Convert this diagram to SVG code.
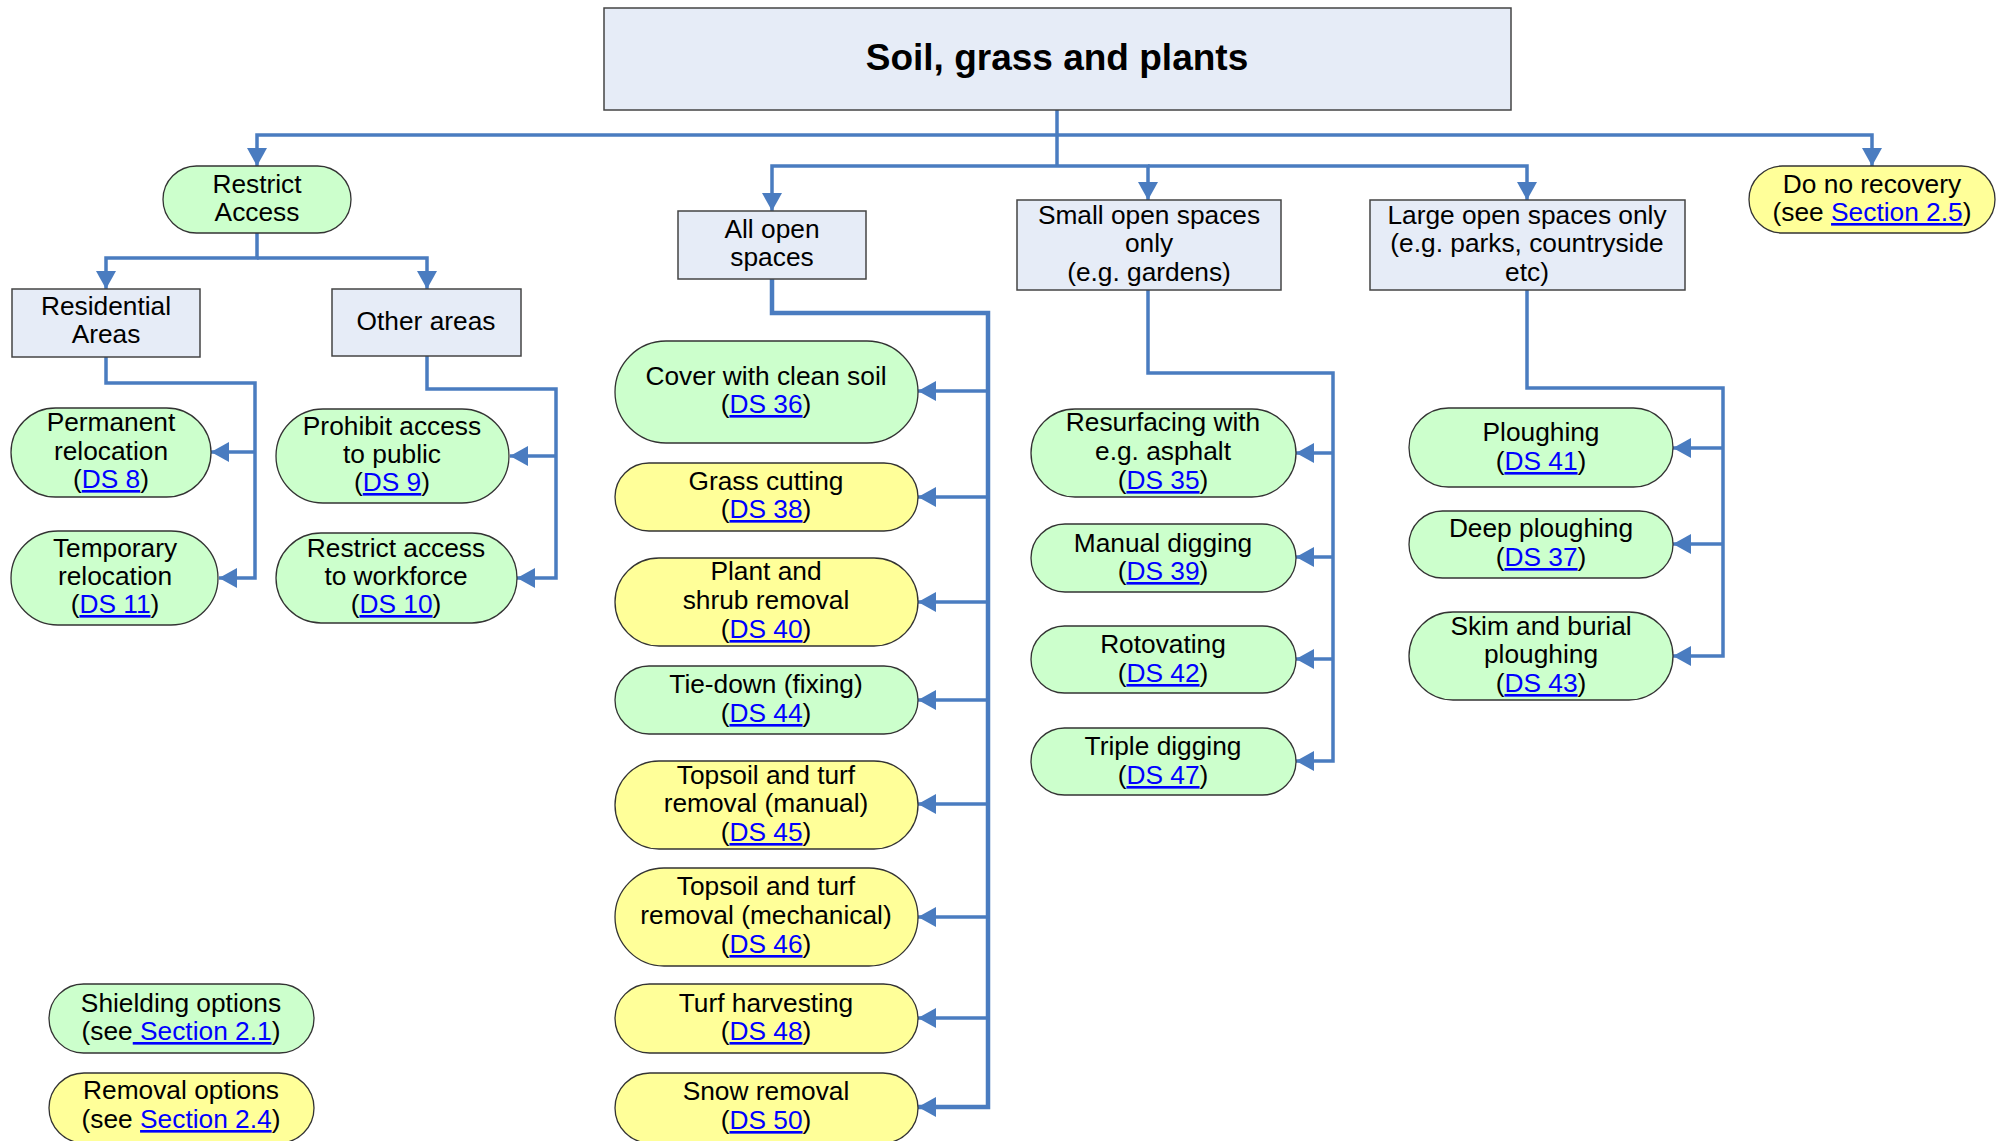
<svg xmlns="http://www.w3.org/2000/svg" width="2011" height="1141" viewBox="0 0 2011 1141">
  <style>
    text { font-family: "Liberation Sans", Arial, sans-serif; font-size: 26.3px; fill: #000; text-anchor: middle; }
    .title { font-size: 37px; font-weight: bold; }
    .box { fill: #E6ECF7; stroke: #444; stroke-width: 1.5; }
    .green { fill: #CCFFCC; stroke: #333; stroke-width: 1.3; }
    .yellow { fill: #FFFF99; stroke: #333; stroke-width: 1.3; }
    .link { fill: #0000FF; text-decoration: underline; }
    .conn path { fill: none; stroke: #4A7CC0; stroke-width: 3.5; stroke-linejoin: miter; }
    .conn path.trunk { stroke-width: 4.5; }
  </style>
  <defs>
    <marker id="arrow" viewBox="0 0 18 20" refX="18" refY="10" markerWidth="18" markerHeight="20" markerUnits="userSpaceOnUse" orient="auto">
      <path d="M0,0 L18,10 L0,20 z" fill="#4A7CC0"/>
    </marker>
  </defs>
  <rect width="2011" height="1141" fill="#fff"/>

  <!-- connectors -->
  <g id="connectors" class="conn">
    <path d="M1057,110 V166"/>
    <path d="M1057,135 H257 V166" marker-end="url(#arrow)"/>
    <path d="M1057,135 H1872 V166" marker-end="url(#arrow)"/>
    <path d="M1057,166 H772 V211" marker-end="url(#arrow)"/>
    <path d="M1057,166 H1148 V200" marker-end="url(#arrow)"/>
    <path d="M1148,166 H1527 V200" marker-end="url(#arrow)"/>

    <path d="M257,233 V258 H106 V289" marker-end="url(#arrow)"/>
    <path d="M257,258 H427 V289" marker-end="url(#arrow)"/>

    <path d="M106,357 V383 H255 V578 H219" marker-end="url(#arrow)"/>
    <path d="M255,452 H211" marker-end="url(#arrow)"/>

    <path d="M427,356 V389 H556 V578 H517" marker-end="url(#arrow)"/>
    <path d="M556,456 H510" marker-end="url(#arrow)"/>

    <path class="trunk" d="M772,279 V313 H988 V1107 H918" marker-end="url(#arrow)"/>
    <path d="M988,391 H918" marker-end="url(#arrow)"/>
    <path d="M988,497 H918" marker-end="url(#arrow)"/>
    <path d="M988,602 H918" marker-end="url(#arrow)"/>
    <path d="M988,700 H918" marker-end="url(#arrow)"/>
    <path d="M988,804 H918" marker-end="url(#arrow)"/>
    <path d="M988,917 H918" marker-end="url(#arrow)"/>
    <path d="M988,1018 H918" marker-end="url(#arrow)"/>

    <path d="M1148,290 V373 H1333 V761 H1296" marker-end="url(#arrow)"/>
    <path d="M1333,453 H1296" marker-end="url(#arrow)"/>
    <path d="M1333,557 H1296" marker-end="url(#arrow)"/>
    <path d="M1333,659 H1296" marker-end="url(#arrow)"/>

    <path d="M1527,290 V388 H1723 V656 H1673" marker-end="url(#arrow)"/>
    <path d="M1723,448 H1673" marker-end="url(#arrow)"/>
    <path d="M1723,544 H1673" marker-end="url(#arrow)"/>
  </g>

  <!-- top level -->
  <g id="title">
    <rect class="box" x="604" y="8" width="907" height="102"/>
    <text class="title" x="1057" y="70">Soil, grass and plants</text>
  </g>

  <g id="restrict-access">
    <rect class="green" x="163" y="166" width="188" height="67" rx="33.5"/>
    <text x="257" y="193">Restrict</text>
    <text x="257" y="221">Access</text>
  </g>
  <g id="residential-areas">
    <rect class="box" x="12" y="289" width="188" height="68"/>
    <text x="106" y="315">Residential</text>
    <text x="106" y="343">Areas</text>
  </g>
  <g id="other-areas">
    <rect class="box" x="332" y="289" width="189" height="67"/>
    <text x="426" y="330">Other areas</text>
  </g>
  <g id="permanent-relocation">
    <rect class="green" x="11" y="408" width="200" height="89" rx="44.5"/>
    <text x="111" y="431">Permanent</text>
    <text x="111" y="460">relocation</text>
    <text x="111" y="488">(<tspan class="link">DS 8</tspan>)</text>
  </g>
  <g id="temporary-relocation">
    <rect class="green" x="11" y="531" width="207" height="94" rx="47"/>
    <text x="115" y="557">Temporary</text>
    <text x="115" y="585">relocation</text>
    <text x="115" y="613">(<tspan class="link">DS 11</tspan>)</text>
  </g>
  <g id="prohibit-access">
    <rect class="green" x="276" y="409" width="233" height="94" rx="47"/>
    <text x="392" y="435">Prohibit access</text>
    <text x="392" y="463">to public</text>
    <text x="392" y="491">(<tspan class="link">DS 9</tspan>)</text>
  </g>
  <g id="restrict-workforce">
    <rect class="green" x="276" y="533" width="241" height="90" rx="45"/>
    <text x="396" y="557">Restrict access</text>
    <text x="396" y="585">to workforce</text>
    <text x="396" y="613">(<tspan class="link">DS 10</tspan>)</text>
  </g>

  <g id="all-open-spaces">
    <rect class="box" x="678" y="211" width="188" height="68"/>
    <text x="772" y="238">All open</text>
    <text x="772" y="266">spaces</text>
  </g>
  <g id="small-open-spaces">
    <rect class="box" x="1017" y="200" width="264" height="90"/>
    <text x="1149" y="224">Small open spaces</text>
    <text x="1149" y="252">only</text>
    <text x="1149" y="281">(e.g. gardens)</text>
  </g>
  <g id="large-open-spaces">
    <rect class="box" x="1370" y="200" width="315" height="90"/>
    <text x="1527" y="224">Large open spaces only</text>
    <text x="1527" y="252">(e.g. parks, countryside</text>
    <text x="1527" y="281">etc)</text>
  </g>
  <g id="do-no-recovery">
    <rect class="yellow" x="1749" y="166" width="246" height="67" rx="33.5"/>
    <text x="1872" y="193">Do no recovery</text>
    <text x="1872" y="221">(see <tspan class="link">Section 2.5</tspan>)</text>
  </g>

  <!-- all open spaces options -->
  <g id="cover-clean-soil">
    <rect class="green" x="615" y="341" width="303" height="102" rx="51"/>
    <text x="766" y="385">Cover with clean soil</text>
    <text x="766" y="413">(<tspan class="link">DS 36</tspan>)</text>
  </g>
  <g id="grass-cutting">
    <rect class="yellow" x="615" y="463" width="303" height="68" rx="34"/>
    <text x="766" y="490">Grass cutting</text>
    <text x="766" y="518">(<tspan class="link">DS 38</tspan>)</text>
  </g>
  <g id="plant-shrub-removal">
    <rect class="yellow" x="615" y="558" width="303" height="88" rx="44"/>
    <text x="766" y="580">Plant and</text>
    <text x="766" y="609">shrub removal</text>
    <text x="766" y="638">(<tspan class="link">DS 40</tspan>)</text>
  </g>
  <g id="tie-down">
    <rect class="green" x="615" y="666" width="303" height="68" rx="34"/>
    <text x="766" y="693">Tie-down (fixing)</text>
    <text x="766" y="722">(<tspan class="link">DS 44</tspan>)</text>
  </g>
  <g id="topsoil-manual">
    <rect class="yellow" x="615" y="761" width="303" height="88" rx="44"/>
    <text x="766" y="784">Topsoil and turf</text>
    <text x="766" y="812">removal (manual)</text>
    <text x="766" y="841">(<tspan class="link">DS 45</tspan>)</text>
  </g>
  <g id="topsoil-mechanical">
    <rect class="yellow" x="615" y="868" width="303" height="98" rx="49"/>
    <text x="766" y="895">Topsoil and turf</text>
    <text x="766" y="924">removal (mechanical)</text>
    <text x="766" y="953">(<tspan class="link">DS 46</tspan>)</text>
  </g>
  <g id="turf-harvesting">
    <rect class="yellow" x="615" y="984" width="303" height="69" rx="34.5"/>
    <text x="766" y="1012">Turf harvesting</text>
    <text x="766" y="1040">(<tspan class="link">DS 48</tspan>)</text>
  </g>
  <g id="snow-removal">
    <rect class="yellow" x="615" y="1073" width="303" height="70" rx="35"/>
    <text x="766" y="1100">Snow removal</text>
    <text x="766" y="1129">(<tspan class="link">DS 50</tspan>)</text>
  </g>

  <!-- small open spaces options -->
  <g id="resurfacing">
    <rect class="green" x="1031" y="409" width="265" height="88" rx="44"/>
    <text x="1163" y="431">Resurfacing with</text>
    <text x="1163" y="460">e.g. asphalt</text>
    <text x="1163" y="489">(<tspan class="link">DS 35</tspan>)</text>
  </g>
  <g id="manual-digging">
    <rect class="green" x="1031" y="524" width="265" height="68" rx="34"/>
    <text x="1163" y="552">Manual digging</text>
    <text x="1163" y="580">(<tspan class="link">DS 39</tspan>)</text>
  </g>
  <g id="rotovating">
    <rect class="green" x="1031" y="626" width="265" height="67" rx="33.5"/>
    <text x="1163" y="653">Rotovating</text>
    <text x="1163" y="682">(<tspan class="link">DS 42</tspan>)</text>
  </g>
  <g id="triple-digging">
    <rect class="green" x="1031" y="728" width="265" height="67" rx="33.5"/>
    <text x="1163" y="755">Triple digging</text>
    <text x="1163" y="784">(<tspan class="link">DS 47</tspan>)</text>
  </g>

  <!-- large open spaces options -->
  <g id="ploughing">
    <rect class="green" x="1409" y="408" width="264" height="79" rx="39.5"/>
    <text x="1541" y="441">Ploughing</text>
    <text x="1541" y="470">(<tspan class="link">DS 41</tspan>)</text>
  </g>
  <g id="deep-ploughing">
    <rect class="green" x="1409" y="511" width="264" height="67" rx="33.5"/>
    <text x="1541" y="537">Deep ploughing</text>
    <text x="1541" y="566">(<tspan class="link">DS 37</tspan>)</text>
  </g>
  <g id="skim-burial-ploughing">
    <rect class="green" x="1409" y="612" width="264" height="88" rx="44"/>
    <text x="1541" y="635">Skim and burial</text>
    <text x="1541" y="663">ploughing</text>
    <text x="1541" y="692">(<tspan class="link">DS 43</tspan>)</text>
  </g>

  <!-- legend -->
  <g id="legend-shielding">
    <rect class="green" x="49" y="984" width="265" height="69" rx="34.5"/>
    <text x="181" y="1012">Shielding options</text>
    <text x="181" y="1040">(see<tspan class="link"> Section 2.1</tspan>)</text>
  </g>
  <g id="legend-removal">
    <rect class="yellow" x="49" y="1073" width="265" height="70" rx="35"/>
    <text x="181" y="1099">Removal options</text>
    <text x="181" y="1128">(see <tspan class="link">Section 2.4</tspan>)</text>
  </g>
</svg>
